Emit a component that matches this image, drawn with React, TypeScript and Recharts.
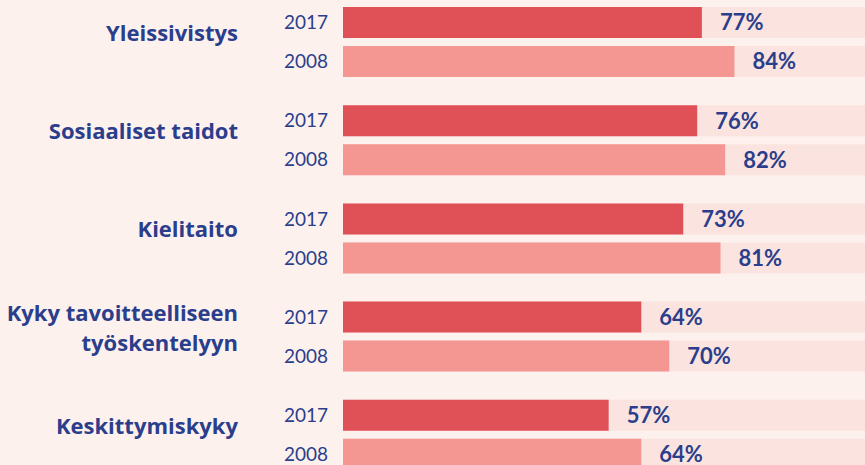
import { BarChart, Bar, XAxis, YAxis, LabelList } from 'recharts';

const categories = [
	'Yleissivistys',
	'Sosiaaliset taidot',
	'Kielitaito',
	'Kyky tavoitteelliseen\ntyöskentelyyn',
	'Keskittymiskyky',
];
const years = ['2017', '2008'];
const values2017 = [77, 76, 73, 64, 57];
const values2008 = [84, 82, 81, 70, 64];

const data = categories.map((name, i) => ({
	name,
	v2017: values2017[i],
	v2008: values2008[i],
}));

const textColor = '#2a3e8c';
const font = 'Lato, "Open Sans", sans-serif';
const labelFont = '"Open Sans", Lato, sans-serif';

const CategoryTick = (props: any) => {
	const { x, y, payload } = props;
	const lines: string[] = String(payload.value).split('\n');
	const lineHeight = 30;
	const startY = y - 9 - ((lines.length - 1) * lineHeight) / 2;
	return (
		<text
			x={x}
			y={startY}
			textAnchor="end"
			fill={textColor}
			fontFamily={labelFont}
			fontWeight={700}
			fontSize={22}
		>
			{lines.map((line, i) => (
				<tspan key={i} x={x} y={startY + i * lineHeight} dy="0.36em">
					{line}
				</tspan>
			))}
		</text>
	);
};

const App = () => {
	return (
		<div
			style={{
				position: 'fixed',
				left: 0,
				top: 0,
				width: 865,
				height: 465,
				overflow: 'hidden',
				background: '#fdf1ee',
			}}
		>
			<div style={{ position: 'absolute', left: 0, top: -7 }}>
				<BarChart
					width={865}
					height={491}
					data={data}
					layout="vertical"
					margin={{ top: 0, right: 0, bottom: 0, left: 0 }}
					barGap={8}
				>
					<XAxis type="number" domain={[0, 112]} hide />
					<YAxis
						type="category"
						dataKey="name"
						width={343}
						axisLine={false}
						tickLine={false}
						tickSize={0}
						tickMargin={105}
						tick={<CategoryTick />}
						interval={0}
					/>
					<Bar
						dataKey="v2017"
						fill="#e05157"
						barSize={31}
						background={{ fill: '#fbe4df' }}
						isAnimationActive={false}
					>
						<LabelList
							dataKey="v2017"
							position="right"
							offset={18}
							formatter={(v: any) => `${v}%`}
							fill={textColor}
							fontFamily={font}
							fontWeight={700}
							fontSize={22}
						/>
						<LabelList
							dataKey="v2017"
							position="left"
							offset={15}
							formatter={() => years[0]}
							fill={textColor}
							fontFamily={font}
							fontSize={19}
						/>
					</Bar>
					<Bar
						dataKey="v2008"
						fill="#f49692"
						barSize={31}
						background={{ fill: '#fbe4df' }}
						isAnimationActive={false}
					>
						<LabelList
							dataKey="v2008"
							position="right"
							offset={18}
							formatter={(v: any) => `${v}%`}
							fill={textColor}
							fontFamily={font}
							fontWeight={700}
							fontSize={22}
						/>
						<LabelList
							dataKey="v2008"
							position="left"
							offset={15}
							formatter={() => years[1]}
							fill={textColor}
							fontFamily={font}
							fontSize={19}
						/>
					</Bar>
				</BarChart>
			</div>
		</div>
	);
};

export default App;
